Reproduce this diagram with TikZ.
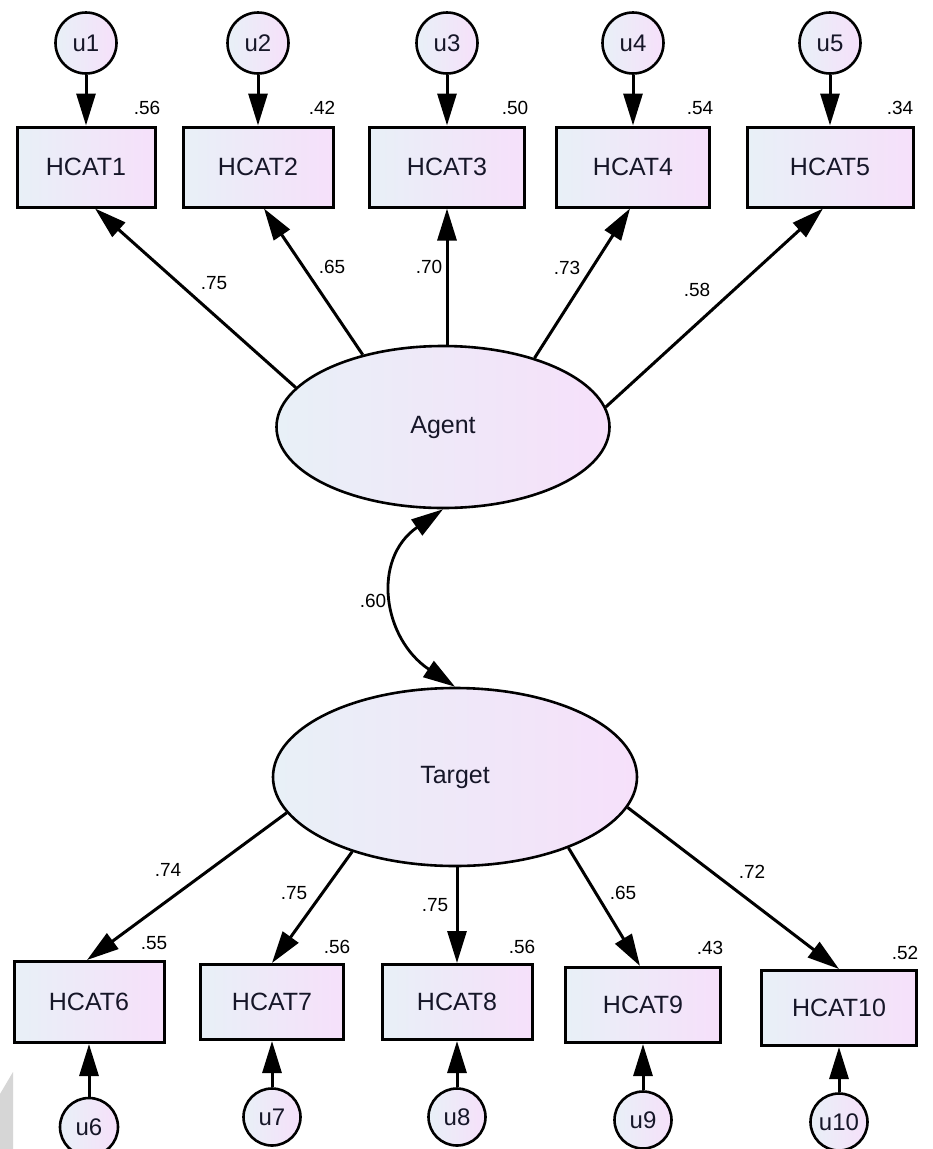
\documentclass[tikz,border=0pt]{standalone}
\usepackage{fontspec}
\setmainfont{Liberation Sans}
\usetikzlibrary{shapes.geometric,arrows.meta}
\definecolor{gradL}{RGB}{232,240,247}
\definecolor{gradR}{RGB}{246,224,250}
\definecolor{txt}{RGB}{22,22,40}
\definecolor{wm}{RGB}{214,214,214}
\tikzset{
  grad/.style={left color=gradL, right color=gradR},
  obs/.style={draw, rectangle, line width=3pt, inner sep=0pt, grad, text=txt, font=\fontsize{25}{30}\selectfont},
  lat/.style={draw, ellipse, line width=2.6pt, inner sep=0pt, grad, text=txt, font=\fontsize{25}{30}\selectfont},
  err/.style={draw, circle, line width=2.6pt, inner sep=0pt, grad, text=txt, font=\fontsize{24}{28}\selectfont},
  lbl/.style={inner sep=0pt, text=black, font=\fontsize{19}{22}\selectfont},
  arr/.style={line width=3pt, -{Triangle[length=32pt,width=19pt]}},
  dblarr/.style={line width=2.8pt, {Triangle[length=32pt,width=19pt]}-{Triangle[length=32pt,width=19pt]}},
}
\begin{document}
\begin{tikzpicture}[x=1pt,y=-1pt]
\useasboundingbox (0,0) rectangle (933,1149);
\fill[white] (0,0) rectangle (933,1149);
\fill[wm] (0,1094) -- (13,1072) -- (13,1149) -- (0,1149) -- cycle;

% top error terms
\node[err, minimum size=61pt] (u1) at (86,43) {u1};
\node[err, minimum size=61pt] (u2) at (258,43) {u2};
\node[err, minimum size=61pt] (u3) at (447,43) {u3};
\node[err, minimum size=61pt] (u4) at (633,43) {u4};
\node[err, minimum size=61pt] (u5) at (830,43) {u5};

% top indicators
\node[obs, minimum width=138pt, minimum height=80pt] (H1) at (86,167) {HCAT1};
\node[obs, minimum width=150pt, minimum height=80pt] (H2) at (258,167) {HCAT2};
\node[obs, minimum width=155pt, minimum height=80pt] (H3) at (447,167) {HCAT3};
\node[obs, minimum width=153pt, minimum height=80pt] (H4) at (633,167) {HCAT4};
\node[obs, minimum width=166pt, minimum height=80pt] (H5) at (830,167) {HCAT5};

% latent variables
\node[lat, minimum width=333pt, minimum height=162pt] (Agent) at (443,427) {Agent};
\node[lat, minimum width=364pt, minimum height=178pt] (Target) at (455,777) {Target};

% bottom indicators
\node[obs, minimum width=150pt, minimum height=81pt] (H6) at (89,1002) {HCAT6};
\node[obs, minimum width=143pt, minimum height=75pt] (H7) at (272,1002) {HCAT7};
\node[obs, minimum width=150pt, minimum height=75pt] (H8) at (457,1002) {HCAT8};
\node[obs, minimum width=155pt, minimum height=75pt] (H9) at (643,1005) {HCAT9};
\node[obs, minimum width=155pt, minimum height=75pt] (H10) at (839,1008) {HCAT10};

% bottom error terms
\node[err, minimum size=58pt] (u6) at (89,1127) {u6};
\node[err, minimum size=57pt] (u7) at (272,1117) {u7};
\node[err, minimum size=57pt] (u8) at (457,1117) {u8};
\node[err, minimum size=57pt] (u9) at (643,1120) {u9};
\node[err, minimum size=57pt] (u10) at (839,1122) {u10};

% error arrows
\foreach \i in {1,...,5} {\draw[arr] (u\i.south) -- (H\i.north);}
\foreach \i in {6,...,10} {\draw[arr] (u\i.north) -- (H\i.south);}

% loadings Agent
\draw[arr] (Agent.165) -- ([xshift=9pt]H1.south);
\draw[arr] (Agent.138) -- ([xshift=6pt]H2.south);
\draw[arr] (Agent.north -| H3.south) -- (H3.south);
\draw[arr] (Agent.37) -- ([xshift=-3pt]H4.south);
\draw[arr] (Agent.7) -- ([xshift=-7pt]H5.south);

% loadings Target
\draw[arr] (Target.192) -- ([xshift=-2pt]H6.north);
\draw[arr] (Target.216) -- (H7.north);
\draw[arr] (Target.south -| H8.north) -- (H8.north);
\draw[arr] (Target.328) -- ([xshift=-3pt]H9.north);
\draw[arr] (Target.350) -- (H10.north);

% covariance
\draw[dblarr] (Agent.south) .. controls +(-72,50) and +(-72,-48) .. (Target.north);

% labels
\node[lbl] (r1) at (147,108) {.56};
\node[lbl] (r2) at (322,108) {.42};
\node[lbl] (r3) at (515,108) {.50};
\node[lbl] (r4) at (700,108) {.54};
\node[lbl] (r5) at (900,108) {.34};
\node[lbl] (l1) at (214,283) {.75};
\node[lbl] (l2) at (332,267) {.65};
\node[lbl] (l3) at (429,267) {.70};
\node[lbl] (l4) at (567,268) {.73};
\node[lbl] (l5) at (697,290) {.58};
\node[lbl] (cv) at (373,601) {.60};
\node[lbl] (l6) at (168,870) {.74};
\node[lbl] (l7) at (294,893) {.75};
\node[lbl] (l8) at (435,905) {.75};
\node[lbl] (l9) at (623,893) {.65};
\node[lbl] (l10) at (752,872) {.72};
\node[lbl] (r6) at (154,943) {.55};
\node[lbl] (r7) at (337,947) {.56};
\node[lbl] (r8) at (522,947) {.56};
\node[lbl] (r9) at (710,948) {.43};
\node[lbl] (r10) at (905,953) {.52};
\end{tikzpicture}
\end{document}
